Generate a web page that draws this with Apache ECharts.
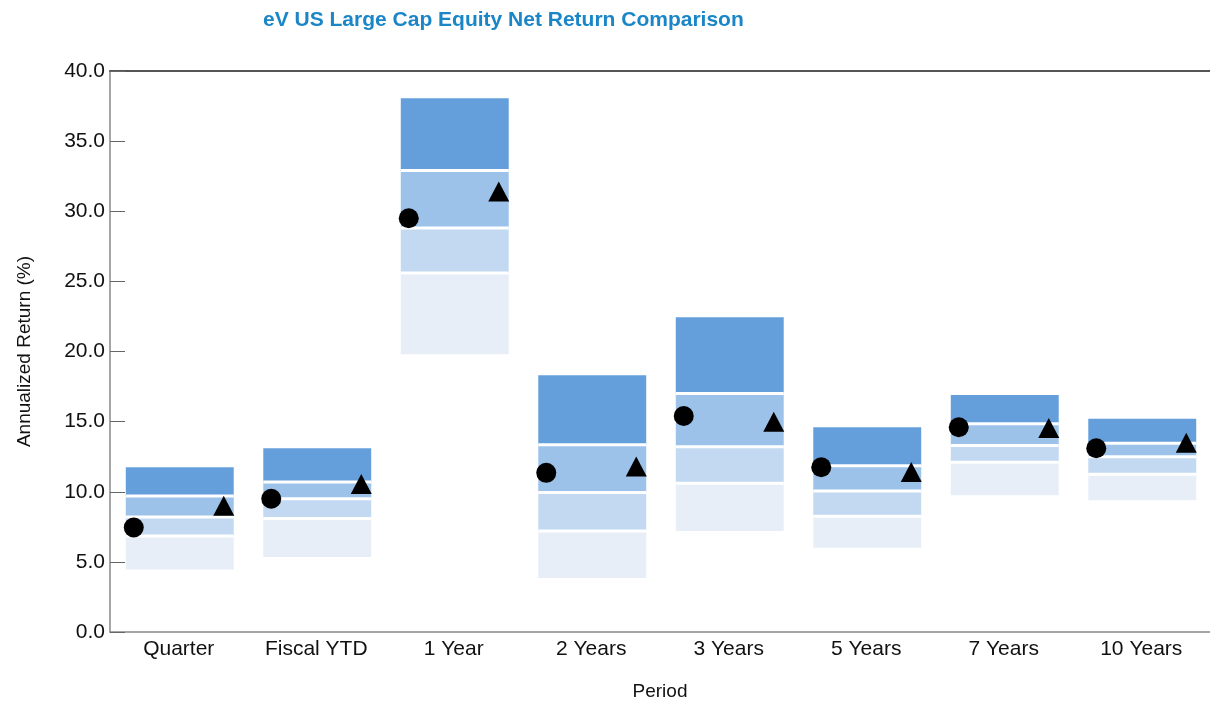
<!DOCTYPE html>
<html>
<head>
<meta charset="utf-8">
<script src="https://cdn.jsdelivr.net/npm/echarts@6/dist/echarts.min.js"></script>
<style>
  html, body { margin: 0; padding: 0; background: #fff; }
  #chart { width: 1210px; height: 703px; }
</style>
</head>
<body>
<div id="chart"></div>
<script>
// periods on the x axis
const categories = ["Quarter", "Fiscal YTD", "1 Year", "2 Years", "3 Years", "5 Years", "7 Years", "10 Years"];
// universe percentiles (top of bar = 5th, bottom = 95th)
const p5  = [11.75, 13.1, 38.05, 18.3, 22.45, 14.6, 16.9, 15.2];
const p25 = [9.7, 10.7, 32.9, 13.35, 17.0, 11.85, 14.85, 13.45];
const p50 = [8.2, 9.5, 28.8, 9.95, 13.2, 10.05, 13.3, 12.5];
const p75 = [6.85, 8.1, 25.6, 7.2, 10.6, 8.25, 12.1, 11.25];
const p95 = [4.45, 5.35, 19.8, 3.85, 7.2, 6.0, 9.75, 9.4];
// portfolio (circle) and benchmark (triangle)
const circleVals = [7.45, 9.5, 29.5, 11.35, 15.4, 11.75, 14.6, 13.1];
const triangleVals = [9.0, 10.55, 31.4, 11.8, 15.0, 11.4, 14.55, 13.5];
const yTicks = [0, 5, 10, 15, 20, 25, 30, 35, 40];

const font = "'Liberation Sans Narrow', 'Arial Narrow', 'Liberation Sans', sans-serif";
const bandColors = ["#649fdc", "#9dc2ea", "#c3d9f2", "#e7eef8"]; // 5-25, 25-50, 50-75, 75-95

const boxData = categories.map((c, i) => [i, p5[i], p25[i], p50[i], p75[i], p95[i]]);

function renderBox(params, api) {
  const i = api.value(0);
  const band = api.size([1, 0])[0];
  const w = band * 0.785;
  const cx = api.coord([i, 0])[0];
  const x0 = cx - w / 2 + 1;
  const ys = [1, 2, 3, 4, 5].map(k => api.coord([i, api.value(k)])[1]);
  const children = [];
  for (let k = 0; k < 4; k++) {
    children.push({
      type: "rect",
      shape: { x: x0, y: ys[k], width: w, height: ys[k + 1] - ys[k] },
      style: { fill: bandColors[k] }
    });
  }
  // white separators between the quartile bands
  for (let k = 1; k < 4; k++) {
    children.push({
      type: "line",
      shape: { x1: x0, y1: ys[k], x2: x0 + w, y2: ys[k] },
      style: { stroke: "#fff", lineWidth: 3 }
    });
  }
  return { type: "group", children: children };
}

const myChart = echarts.init(document.getElementById("chart"));
myChart.setOption({
  animation: false,
  title: {
    text: "eV US Large Cap Equity Net Return Comparison",
    left: 258,
    top: 5,
    textStyle: { color: "#1a86c8", fontSize: 21, fontWeight: "bold", fontFamily: font }
  },
  grid: { left: 110, right: 0, top: 71, bottom: 71, outerBoundsMode: "none", containLabel: false },
  xAxis: [
    {
      type: "category",
      data: categories,
      name: "Period",
      nameLocation: "middle",
      nameGap: 50,
      nameTextStyle: { color: "#111", fontSize: 19, fontFamily: font },
      axisLine: { lineStyle: { color: "#888", width: 1.5 } },
      axisTick: { show: false },
      axisLabel: { color: "#111", fontSize: 21, fontFamily: font, margin: 7 }
    },
    {
      type: "category",
      data: categories,
      position: "top",
      axisLine: { lineStyle: { color: "#555", width: 2 } },
      axisTick: { show: false },
      axisLabel: { show: false }
    }
  ],
  yAxis: {
    type: "value",
    min: yTicks[0],
    max: yTicks[yTicks.length - 1],
    interval: 5,
    name: "Annualized Return (%)",
    nameLocation: "middle",
    nameGap: 76,
    nameTextStyle: { color: "#111", fontSize: 19, fontFamily: font },
    axisLine: { show: true, lineStyle: { color: "#888", width: 1.5 } },
    axisTick: { show: true, inside: true, length: 15, lineStyle: { color: "#666" } },
    splitLine: { show: false },
    axisLabel: {
      color: "#111", fontSize: 21, fontFamily: font, margin: 5,
      formatter: v => v.toFixed(1)
    }
  },
  series: [
    {
      type: "custom",
      renderItem: renderBox,
      encode: { x: 0, y: [1, 5] },
      data: boxData,
      z: 1
    },
    {
      type: "scatter",
      data: circleVals,
      symbol: "circle",
      symbolSize: 20,
      symbolOffset: [-45, 0],
      itemStyle: { color: "#000", opacity: 1 },
      z: 5
    },
    {
      type: "scatter",
      data: triangleVals,
      symbol: "triangle",
      symbolSize: [21, 20],
      symbolOffset: [45, 0],
      itemStyle: { color: "#000", opacity: 1 },
      z: 5
    }
  ]
});
window.addEventListener("resize", () => {
  myChart.resize();
});
</script>
</body>
</html>
